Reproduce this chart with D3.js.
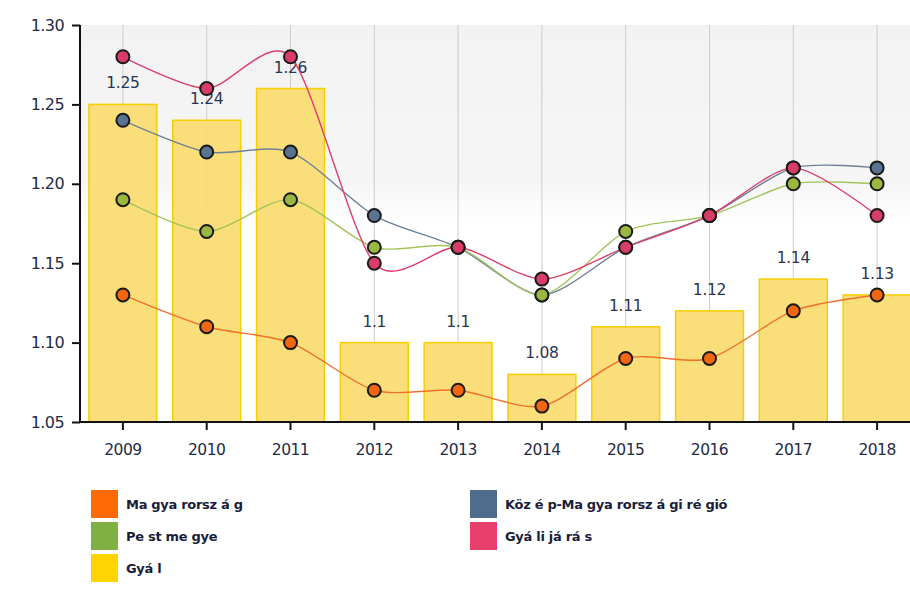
<!DOCTYPE html>
<html><head><meta charset="utf-8">
<script src="https://cdn.jsdelivr.net/npm/d3@7"></script>
<style>body{margin:0;background:#fff;}svg{display:block;font-family:"DejaVu Sans",Verdana,sans-serif;}</style>
</head><body>
<svg id="c" width="910" height="593"></svg>
<script>
const years = ["2009","2010","2011","2012","2013","2014","2015","2016","2017","2018"];
const gyal = [1.25,1.24,1.26,1.1,1.1,1.08,1.11,1.12,1.14,1.13];
const gyalLabels = ["1.25","1.24","1.26","1.1","1.1","1.08","1.11","1.12","1.14","1.13"];
const magyarorszag = [1.13,1.11,1.10,1.07,1.07,1.06,1.09,1.09,1.12,1.13];
const kozepMagyar = [1.24,1.22,1.22,1.18,1.16,1.13,1.16,1.18,1.21,1.21];
const pestMegye = [1.19,1.17,1.19,1.16,1.16,1.13,1.17,1.18,1.20,1.20];
const gyaliJaras = [1.28,1.26,1.28,1.15,1.16,1.14,1.16,1.18,1.21,1.18];
const yTicks = [1.05,1.10,1.15,1.20,1.25,1.30];

const lineSeries = [
  {name:"Ma gya rorsz á g", values:magyarorszag, line:"#f0702a", marker:"#f2660f"},
  {name:"Köz é p-Ma gya rorsz á gi ré gió", values:kozepMagyar, line:"#6f8296", marker:"#5a7390"},
  {name:"Pe st me gye", values:pestMegye, line:"#a3c35c", marker:"#9ab83e"},
  {name:"Gyá li já rá s", values:gyaliJaras, line:"#d9406c", marker:"#d93c68"}
];
const legend = [
  {name:"Ma gya rorsz á g", color:"#ff6a06", col:0, row:0},
  {name:"Pe st me gye", color:"#80b043", col:0, row:1},
  {name:"Gyá l", color:"#ffd400", col:0, row:2},
  {name:"Köz é p-Ma gya rorsz á gi ré gió", color:"#4f6c8c", col:1, row:0},
  {name:"Gyá li já rá s", color:"#e8406c", col:1, row:1}
];

const svg = d3.select("#c");
const x = d3.scaleBand().domain(years).range([81,919]).paddingInner(0.19).paddingOuter(0.095);
const y = d3.scaleLinear().domain([1.05,1.30]).range([422,25]);

// background gradient
const defs = svg.append("defs");
const g = defs.append("linearGradient").attr("id","bg").attr("x1",0).attr("y1",0).attr("x2",0).attr("y2",1);
g.append("stop").attr("offset","0%").attr("stop-color","#f2f2f2");
g.append("stop").attr("offset","40%").attr("stop-color","#f6f6f6");
g.append("stop").attr("offset","50%").attr("stop-color","#ffffff");
svg.append("rect").attr("x",80).attr("y",y(1.30)).attr("width",838).attr("height",y(1.05)-y(1.30)).attr("fill","url(#bg)");

// gridlines behind
svg.append("g").selectAll("line").data(years).join("line")
  .attr("x1",d=>x(d)+x.bandwidth()/2).attr("x2",d=>x(d)+x.bandwidth()/2)
  .attr("y1",y(1.30)).attr("y2",y(1.05)).attr("stroke","#cccccc").attr("stroke-width",1);

// bars
svg.append("g").selectAll("rect").data(years).join("rect")
  .attr("x",d=>x(d)).attr("width",x.bandwidth())
  .attr("y",(d,i)=>y(gyal[i])).attr("height",(d,i)=>y(1.05)-y(gyal[i]))
  .attr("fill","#f9dc70").attr("fill-opacity",0.93).attr("stroke","#f5cf00").attr("stroke-width",1.5);

// bar labels
svg.append("g").selectAll("text").data(years).join("text")
  .attr("x",d=>x(d)+x.bandwidth()/2).attr("y",(d,i)=>y(gyal[i])-16)
  .attr("text-anchor","middle").attr("font-size",15.5).attr("fill","#2b3450").attr("letter-spacing","-0.3")
  .text((d,i)=>gyalLabels[i]);

// lines
const cx = d=>x(d)+x.bandwidth()/2;
const lineGen = d3.line().x((v,i)=>cx(years[i])).y(v=>y(v)).curve(d3.curveCardinal.tension(0.2));
lineSeries.forEach(s=>{
  svg.append("path").attr("d",lineGen(s.values)).attr("fill","none").attr("stroke",s.line).attr("stroke-width",1.4);
});
lineSeries.forEach(s=>{
  svg.append("g").selectAll("circle").data(s.values).join("circle")
    .attr("cx",(v,i)=>cx(years[i])).attr("cy",v=>y(v)).attr("r",6.5)
    .attr("fill",s.marker).attr("stroke","#1a1a1a").attr("stroke-width",2);
});

// axes
const yAxis = d3.axisLeft(y).tickValues(yTicks).tickFormat(d3.format(".2f")).tickSize(8).tickPadding(8);
const ya = svg.append("g").attr("transform","translate(80,0)").call(yAxis);
ya.select(".domain").attr("stroke","#111").attr("stroke-width",2).attr("d","M0,"+y(1.30)+"V"+y(1.05));
ya.selectAll(".tick line").attr("stroke","#111").attr("stroke-width",2);
ya.selectAll(".tick text").attr("font-size",16).attr("fill","#1f2b48").attr("font-family","DejaVu Sans, Verdana, sans-serif").attr("letter-spacing","-0.6");

const xAxis = d3.axisBottom(x).tickSize(8).tickPadding(14);
const xa = svg.append("g").attr("transform","translate(0,422)").call(xAxis);
xa.select(".domain").attr("stroke","#111").attr("stroke-width",2).attr("d","M80,0H919");
xa.selectAll(".tick line").attr("stroke","#111").attr("stroke-width",2);
xa.selectAll(".tick text").attr("font-size",15.5).attr("fill","#1f2b48").attr("font-family","DejaVu Sans, Verdana, sans-serif").attr("letter-spacing","-0.5");

// legend
const lg = svg.append("g");
legend.forEach(l=>{
  const lx = l.col===0 ? 91 : 470;
  const ly = 490 + l.row*32;
  lg.append("rect").attr("x",lx).attr("y",ly).attr("width",27).attr("height",28).attr("fill",l.color);
  lg.append("text").attr("x",lx+35).attr("y",ly+19).attr("font-size",13).attr("fill","#1a1d3a")
    .attr("font-weight","bold").attr("letter-spacing","-0.3").text(l.name);
});
</script>
</body></html>
